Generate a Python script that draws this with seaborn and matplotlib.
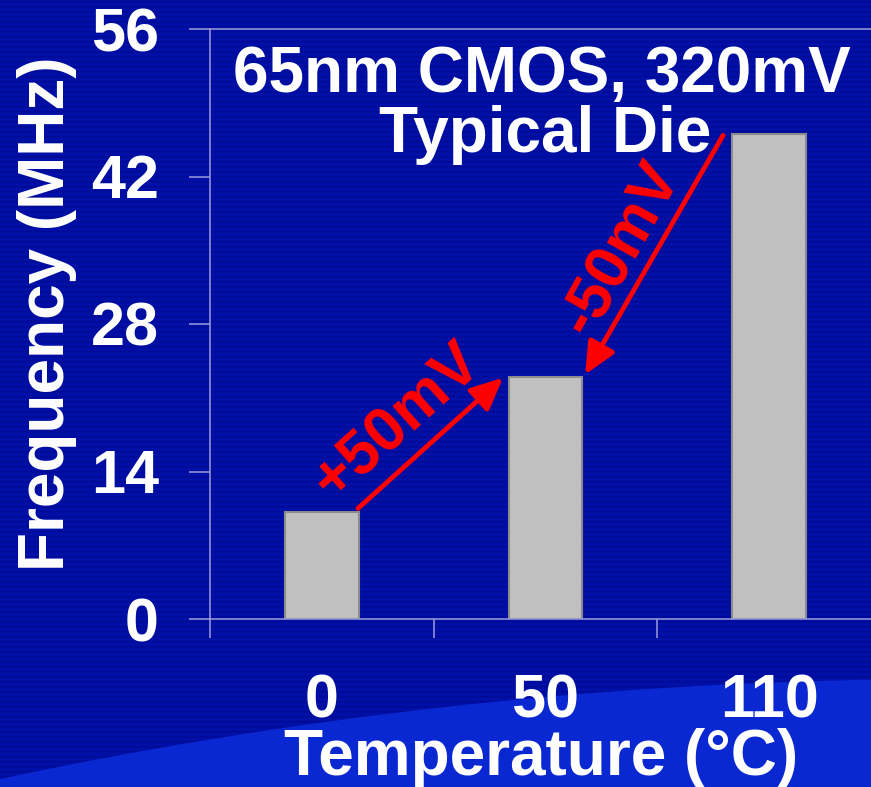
import numpy as np
import pandas as pd
import matplotlib
matplotlib.use("Agg")
import matplotlib.pyplot as plt
import seaborn as sns
from matplotlib.patches import Ellipse

# ---- data ----
temperatures = ["0", "50", "110"]
frequencies = [10.2, 23.0, 46.0]
y_ticks = [0, 14, 28, 42, 56]
title_line1 = "65nm CMOS, 320mV"
title_line2 = "Typical Die"
up_label = "+50mV"
down_label = "-50mV"

sns.set_theme(style="white")
plt.rcParams["font.family"] = ["Liberation Sans", "DejaVu Sans"]
plt.rcParams["font.weight"] = "bold"

W, H = 871, 787
fig = plt.figure(figsize=(W / 100, H / 100), dpi=100)

# ---- background ----
bg = fig.add_axes([0, 0, 1, 1])
bg.set_axis_off()
bg.set_zorder(0)
rows = np.arange(H)
stripe = 0.5 + 0.5 * np.sin(rows * 2 * np.pi / 5.0)
c1 = np.array([0, 18, 172]) / 255
c2 = np.array([0, 11, 152]) / 255
img = c1[None, None, :] + (c2 - c1)[None, None, :] * stripe[:, None, None]
img = np.repeat(img, 2, axis=1)
bg.imshow(img, extent=[0, 1, 0, 1], aspect="auto", interpolation="nearest")
R = 4562
bg.add_patch(Ellipse((950 / W, 1 - (679 + R) / H), 2 * R / W, 2 * R / H,
                     facecolor="#0a28d2", edgecolor="none"))
bg.set_xlim(0, 1)
bg.set_ylim(0, 1)

# ---- main axes ----
lc = "#9c9cdc"
ax = fig.add_axes([210.25 / W, 1 - 619 / H, (W - 210.25) / W, 590 / H])
ax.set_zorder(1)
ax.patch.set_alpha(0)

df = pd.DataFrame({"Temperature": temperatures, "Frequency": frequencies})
sns.barplot(data=df, x="Temperature", y="Frequency", color="#c0c0c0",
            saturation=1, width=0.33, edgecolor="#8c8c8c", linewidth=1.5, ax=ax)

ax.set_xlim(-0.5, 2.456)
ax.set_ylim(0, 56)
ax.set_yticks(y_ticks)
ax.set_yticklabels([str(t) for t in y_ticks])

for s in ["left", "top", "bottom"]:
    ax.spines[s].set_visible(True)
    ax.spines[s].set_color(lc)
    ax.spines[s].set_linewidth(1.1)
ax.spines["right"].set_visible(False)

ax.tick_params(axis="y", direction="out", length=15, width=1.1, color=lc,
               pad=22, labelsize=44, labelcolor="white", left=True)
ax.tick_params(axis="x", which="major", length=0, pad=39, labelsize=44,
               labelcolor="white")
ax.set_xticks([-0.5, 0.5, 1.5], minor=True)
ax.tick_params(axis="x", which="minor", direction="out", length=14, width=1.1,
               color=lc, bottom=True)
for lab in ax.get_xticklabels() + ax.get_yticklabels():
    lab.set_fontweight("bold")

ax.set_xlabel("Temperature (°C)", fontsize=46, color="white", fontweight="bold")
ax.set_ylabel("Frequency (MHz)", fontsize=46, color="white", fontweight="bold")
ax.xaxis.set_label_coords(0.5, -0.185)
ax.yaxis.set_label_coords(-0.2017, 0.518)
ax.xaxis.label.set_va("top")

# ---- titles ----
ax.text(0.982, 50.0, title_line1, ha="center", va="baseline", fontsize=46,
        color="white", fontweight="bold")
ax.text(0.998, 44.3, title_line2, ha="center", va="baseline", fontsize=46,
        color="white", fontweight="bold")

# ---- arrows ----
arrow_kw = dict(arrowstyle="-|>,head_length=0.65,head_width=0.3", lw=3.5,
                color="red", shrinkA=0, shrinkB=0, mutation_scale=30)
ax.annotate("", xy=(0.81, 22.9), xytext=(0.161, 10.5), arrowprops=arrow_kw)
ax.annotate("", xy=(1.177, 23.2), xytext=(1.794, 45.9), arrowprops=arrow_kw)
ax.text(0.336, 18.7, up_label, rotation=42, rotation_mode="anchor",
        ha="center", va="center", color="red", fontsize=45, fontweight="bold")
ax.text(1.338, 35.2, down_label, rotation=61, rotation_mode="anchor",
        ha="center", va="center", color="red", fontsize=45, fontweight="bold")

fig.savefig("out.png", dpi=100)
